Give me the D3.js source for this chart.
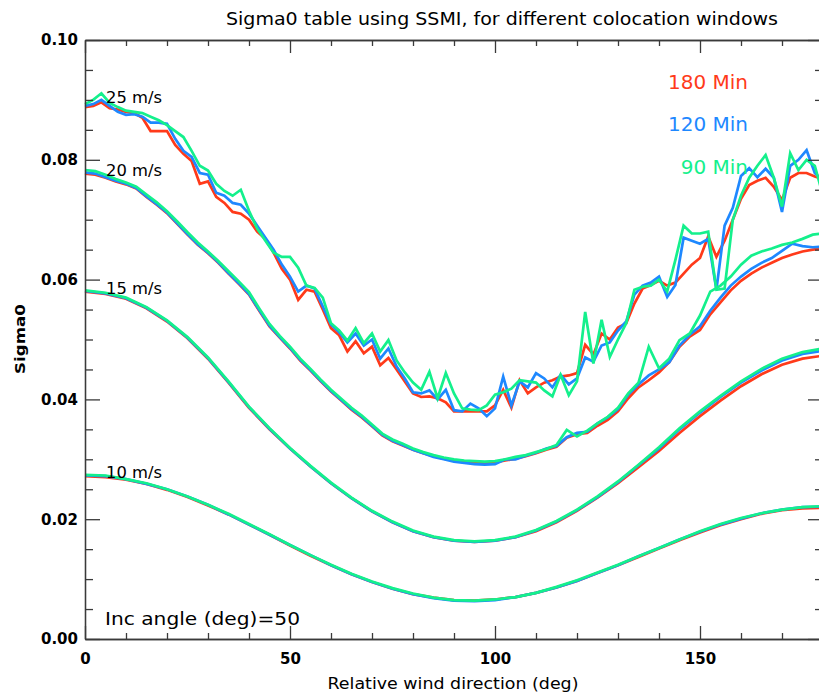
<!DOCTYPE html>
<html><head><meta charset="utf-8">
<script src="https://cdn.jsdelivr.net/npm/d3@7"></script>
<style>html,body{margin:0;padding:0;background:#fff;}svg{display:block;}</style>
</head><body>
<svg id="chart" width="819" height="694"></svg>
<script>
// ---------------- DATA ----------------
const windows = ["180 Min", "120 Min", "90 Min"];
const colors = ["#ff3a1a", "#1e88ff", "#14f08c"];
const speedLabels = ["25 m/s", "20 m/s", "15 m/s", "10 m/s"];

const dir5 = [0,5,10,15,20,25,30,35,40,45,50,55,60,65,70,75,80,85,90,95,100,105,110,115,120,125,130,135,140,145,150,155,160,165,170,175,180];
const dir25 = [0,2.5,5,7.5,10,12.5,15,17.5,20,22.5,25,27.5,30,32.5,35,37.5,40,42.5,45,47.5,50,52.5,55,57.5,60,62.5,65,67.5,70,72.5,75,77.5,80,82.5,85,87.5,90,92.5,95,97.5,100,102.5,105,107.5,110,112.5,115,117.5,120,122.5,125,127.5,130,132.5,135,137.5,140,142.5,145,147.5,150,152.5,155,157.5,160,162.5,165,167.5,170,172.5,175,177.5,180];
const dir2 = [0,2,4,6,8,10,12,14,16,18,20,22,24,26,28,30,32,34,36,38,40,42,44,46,48,50,52,54,56,58,60,62,64,66,68,70,72,74,76,78,80,82,84,86,88,90,92,94,96,98,100,102,104,106,108,110,112,114,116,118,120,122,124,126,128,130,132,134,136,138,140,142,144,146,148,150,152,154,156,158,160,162,164,166,168,170,172,174,176,178,180];

// 10 m/s
const s10_180 = [.0272,.0270,.0266,.0259,.0249,.0237,.0223,.0208,.0191,.0174,.0156,.0139,.0123,.0108,.0095,.0084,.0075,.0069,.0065,.0064,.0066,.0070,.0077,.0086,.0097,.0110,.0123,.0137,.0151,.0165,.0178,.0190,.0200,.0209,.0215,.0218,.0219];
const s10_120 = [.0273,.0272,.0267,.0259,.0250,.0238,.0224,.0208,.0191,.0174,.0157,.0140,.0123,.0108,.0095,.0084,.0075,.0068,.0064,.0063,.0065,.0070,.0077,.0086,.0097,.0110,.0123,.0138,.0152,.0166,.0179,.0191,.0201,.0210,.0216,.0220,.0221];
const s10_90  = [.0274,.0273,.0267,.0260,.0250,.0238,.0224,.0209,.0192,.0175,.0157,.0140,.0124,.0109,.0096,.0085,.0076,.0069,.0065,.0064,.0066,.0070,.0077,.0087,.0098,.0111,.0124,.0138,.0152,.0166,.0180,.0192,.0202,.0210,.0216,.0220,.0222];

// 15 m/s
const s15_180 = [.0580,.0576,.0568,.0552,.0530,.0502,.0468,.0428,.0386,.0350,.0318,.0288,.0260,.0235,.0213,.0195,.0180,.0170,.0164,.0162,.0164,.0170,.0180,.0195,.0214,.0236,.0260,.0287,.0314,.0344,.0372,.0398,.0422,.0442,.0458,.0468,.0473];
const s15_120 = [.0581,.0577,.0569,.0553,.0531,.0503,.0469,.0429,.0387,.0351,.0318,.0288,.0260,.0235,.0213,.0195,.0180,.0170,.0164,.0162,.0164,.0170,.0181,.0196,.0215,.0237,.0262,.0290,.0318,.0350,.0378,.0404,.0428,.0448,.0465,.0476,.0481];
const s15_90  = [.0582,.0578,.0570,.0554,.0532,.0504,.0470,.0430,.0388,.0352,.0319,.0289,.0261,.0236,.0214,.0196,.0181,.0171,.0165,.0163,.0165,.0171,.0182,.0197,.0216,.0238,.0263,.0291,.0320,.0352,.0380,.0406,.0430,.0451,.0468,.0479,.0485];

// 20 m/s
const s20_180 = [.0777,.0775,.0770,.0764,.0759,.0752,.0738,.0725,.0711,.0693,
  .0675,.0658,.0644,.0628,.0610,.0593,.0575,.0548,.0522,.0503,
  .0485,.0465,.0448,.0430,.0413,.0398,.0383,.0370,.0355,.0340,
  .0330,.0323,.0316,.0310,.0305,.0301,.0298,.0296,.0295,.0294,
  .0295,.0298,.0301,.0305,.0310,.0316,.0321,.0336,.0342,.0344,
  .0356,.0366,.0380,.0402,.0420,.0432,.0445,.0462,.0488,.0505,
  .0516,.0542,.0562,.0582,.0598,.0610,.0620,.0628,.0636,.0642,
  .0647,.0650,.0652];
const s20_120 = [.0779,.0777,.0771,.0765,.0760,.0753,.0739,.0726,.0712,.0694,
  .0676,.0659,.0645,.0629,.0611,.0594,.0576,.0549,.0523,.0504,
  .0486,.0466,.0449,.0431,.0414,.0399,.0384,.0371,.0356,.0341,
  .0331,.0324,.0316,.0310,.0304,.0300,.0296,.0294,.0292,.0291,
  .0292,.0300,.0300,.0306,.0311,.0318,.0322,.0337,.0344,.0346,
  .0360,.0370,.0384,.0408,.0425,.0440,.0450,.0462,.0490,.0508,
  .0522,.0548,.0570,.0590,.0605,.0618,.0628,.0636,.0648,.0660,
  .0656,.0654,.0655];
const s20_90 = [.0783,.0781,.0775,.0768,.0762,.0755,.0742,.0729,.0714,.0697,
  .0679,.0662,.0647,.0631,.0614,.0597,.0579,.0552,.0526,.0506,
  .0488,.0468,.0451,.0433,.0416,.0401,.0386,.0373,.0358,.0343,
  .0333,.0326,.0318,.0312,.0307,.0303,.0300,.0298,.0297,.0296,
  .0297,.0300,.0304,.0307,.0312,.0317,.0324,.0349,.0338,.0348,
  .0360,.0371,.0386,.0410,.0428,.0488,.0452,.0468,.0499,.0510,
  .0540,.0580,.0590,.0605,.0625,.0640,.0647,.0652,.0658,.0662,
  .0668,.0675,.0677];

// 25 m/s
const s25_180 = [.0888,.0890,.0896,.0886,.0884,.0880,.0878,.0870,.0848,.0848,
  .0848,.0825,.0810,.0798,.0760,.0764,.0738,.0728,.0713,.0710,
  .0700,.0680,.0668,.0645,.0618,.0600,.0566,.0583,.0580,.0550,
  .0519,.0507,.0480,.0497,.0477,.0488,.0457,.0469,.0450,.0430,
  .0410,.0404,.0405,.0402,.0395,.0380,.0380,.0380,.0380,.0380,
  .0390,.0416,.0386,.0432,.0410,.0420,.0428,.0432,.0438,.0440,
  .0444,.0491,.0475,.0510,.0500,.0520,.0527,.0560,.0585,.0591,
  .0598,.0590,.0595,.0610,.0625,.0636,.0672,.0638,.0665,.0700,
  .0735,.0758,.0765,.0770,.0755,.0733,.0770,.0778,.0778,.0772,
  .0768];
const s25_120 = [.0890,.0893,.0900,.0890,.0880,.0875,.0876,.0872,.0862,.0862,
  .0860,.0835,.0815,.0805,.0778,.0775,.0745,.0740,.0728,.0725,
  .0710,.0690,.0670,.0650,.0625,.0605,.0580,.0590,.0585,.0555,
  .0525,.0512,.0495,.0510,.0490,.0500,.0468,.0485,.0455,.0435,
  .0412,.0410,.0415,.0400,.0416,.0382,.0380,.0393,.0385,.0372,
  .0385,.0438,.0390,.0430,.0420,.0444,.0435,.0420,.0441,.0425,
  .0435,.0470,.0463,.0490,.0495,.0515,.0530,.0575,.0590,.0595,
  .0605,.0571,.0591,.0670,.0665,.0660,.0668,.0583,.0690,.0720,
  .0773,.0786,.0771,.0785,.0770,.0713,.0790,.0800,.0816,.0778,
  .0765];
const s25_90 = [.0893,.0900,.0911,.0895,.0888,.0882,.0880,.0878,.0872,.0866,
  .0858,.0848,.0838,.0815,.0790,.0782,.0760,.0748,.0740,.0750,
  .0715,.0685,.0665,.0645,.0638,.0638,.0620,.0590,.0586,.0570,
  .0527,.0515,.0498,.0519,.0494,.0510,.0480,.0499,.0465,.0445,
  .0428,.0416,.0446,.0402,.0444,.0410,.0385,.0383,.0382,.0390,
  .0408,.0412,.0418,.0432,.0430,.0428,.0415,.0405,.0441,.0407,
  .0430,.0546,.0460,.0533,.0471,.0500,.0527,.0583,.0588,.0590,
  .0600,.0580,.0633,.0690,.0677,.0677,.0680,.0583,.0585,.0700,
  .0740,.0770,.0790,.0808,.0770,.0722,.0811,.0783,.0800,.0790,
  .0740];

const yMajor = [0, 0.02, 0.04, 0.06, 0.08, 0.10];
const yMinor = [0.005,0.01,0.015,0.025,0.03,0.035,0.045,0.05,0.055,0.065,0.07,0.075,0.085,0.09,0.095];
const xMajor = [0, 50, 100, 150];
const xMinor = [10,20,30,40,60,70,80,90,110,120,130,140,160,170];

// --------------- CHART ---------------
const svg = d3.select("#chart");
const L = 85, R = 823, T = 40, B = 639;
const x = d3.scaleLinear().domain([0, 180]).range([L, R]);
const y = d3.scaleLinear().domain([0, 0.10]).range([B, T]);
const font = "'DejaVu Sans', sans-serif";
const axisColor = "#3a3a3a";

const groups = [
  {dirs: dir25, series: [s20_180, s20_120, s20_90]},
  {dirs: dir2, series: [s25_180, s25_120, s25_90]},
  {dirs: dir5, series: [s15_180, s15_120, s15_90]},
  {dirs: dir5, series: [s10_180, s10_120, s10_90]}
];

const line = d3.line().x(d => x(d[0])).y(d => y(d[1]));
const plot = svg.append("g");
[0, 1, 2].forEach(w => {
  groups.forEach(g => {
    const pts = g.dirs.map((d, i) => [d, g.series[w][i]]).filter(p => p[1] !== undefined);
    plot.append("path").datum(pts)
      .attr("d", line)
      .attr("fill", "none")
      .attr("stroke", colors[w])
      .attr("stroke-width", 2.7)
      .attr("stroke-linejoin", "miter");
  });
});

function styleAxis(g) {
  g.select(".domain").attr("stroke", axisColor).attr("stroke-width", 1.3);
  g.selectAll(".tick line").attr("stroke", axisColor).attr("stroke-width", 1.3);
}

// left axis
const la = svg.append("g").attr("transform", `translate(${L},0)`)
  .call(d3.axisLeft(y).tickValues(yMajor).tickSize(-15).tickSizeOuter(0).tickPadding(7).tickFormat(d3.format(".2f")));
styleAxis(la);
la.selectAll("text").attr("font-family", font).attr("font-size", 15).attr("font-weight", "bold").attr("fill", "#000");
const lm = svg.append("g").attr("transform", `translate(${L},0)`)
  .call(d3.axisLeft(y).tickValues(yMinor).tickSize(-8).tickSizeOuter(0).tickFormat(""));
styleAxis(lm);
// right axis
const ra = svg.append("g").attr("transform", `translate(${R},0)`)
  .call(d3.axisRight(y).tickValues(yMajor).tickSize(-15).tickSizeOuter(0).tickFormat(""));
styleAxis(ra);
const rm = svg.append("g").attr("transform", `translate(${R},0)`)
  .call(d3.axisRight(y).tickValues(yMinor).tickSize(-8).tickSizeOuter(0).tickFormat(""));
styleAxis(rm);
// bottom axis
const ba = svg.append("g").attr("transform", `translate(0,${B})`)
  .call(d3.axisBottom(x).tickValues(xMajor).tickSize(-13).tickSizeOuter(0).tickPadding(14).tickFormat(d3.format("d")));
styleAxis(ba);
ba.selectAll("text").attr("font-family", font).attr("font-size", 15).attr("font-weight", "bold").attr("fill", "#000");
const bm = svg.append("g").attr("transform", `translate(0,${B})`)
  .call(d3.axisBottom(x).tickValues(xMinor).tickSize(-6).tickSizeOuter(0).tickFormat(""));
styleAxis(bm);
// top axis
const ta = svg.append("g").attr("transform", `translate(0,${T})`)
  .call(d3.axisTop(x).tickValues(xMajor).tickSize(-13).tickSizeOuter(0).tickFormat(""));
styleAxis(ta);
const tm = svg.append("g").attr("transform", `translate(0,${T})`)
  .call(d3.axisTop(x).tickValues(xMinor).tickSize(-6).tickSizeOuter(0).tickFormat(""));
styleAxis(tm);

// title
svg.append("text").attr("x", 226).attr("y", 25)
  .attr("font-family", font).attr("font-size", 17)
  .attr("textLength", 552).attr("lengthAdjust", "spacingAndGlyphs")
  .text("Sigma0 table using SSMI, for different colocation windows");

// axis titles
svg.append("text").attr("x", 453).attr("y", 689).attr("text-anchor", "middle")
  .attr("font-family", font).attr("font-size", 15)
  .attr("textLength", 251).attr("lengthAdjust", "spacingAndGlyphs")
  .text("Relative wind direction (deg)");
svg.append("text").attr("transform", "translate(25,339) rotate(-90)").attr("text-anchor", "middle")
  .attr("font-family", font).attr("font-size", 14).attr("font-weight", "bold")
  .attr("textLength", 70).attr("lengthAdjust", "spacingAndGlyphs")
  .text("Sigma0");

// curve labels
const labelBase = [103, 176, 294, 478];
speedLabels.forEach((t, i) => {
  svg.append("text").attr("x", 106).attr("y", labelBase[i])
    .attr("font-family", font).attr("font-size", 15)
    .attr("textLength", 56).attr("lengthAdjust", "spacingAndGlyphs")
    .text(t);
});

// legend
const legBase = [89, 131, 174];
windows.forEach((t, i) => {
  svg.append("text").attr("x", 748).attr("y", legBase[i]).attr("text-anchor", "end")
    .attr("font-family", font).attr("font-size", 20).attr("fill", colors[i])
    .text(t);
});

// annotation
svg.append("text").attr("x", 105).attr("y", 625)
  .attr("font-family", font).attr("font-size", 18)
  .attr("textLength", 195).attr("lengthAdjust", "spacingAndGlyphs")
  .text("Inc angle (deg)=50");
</script>
</body></html>
